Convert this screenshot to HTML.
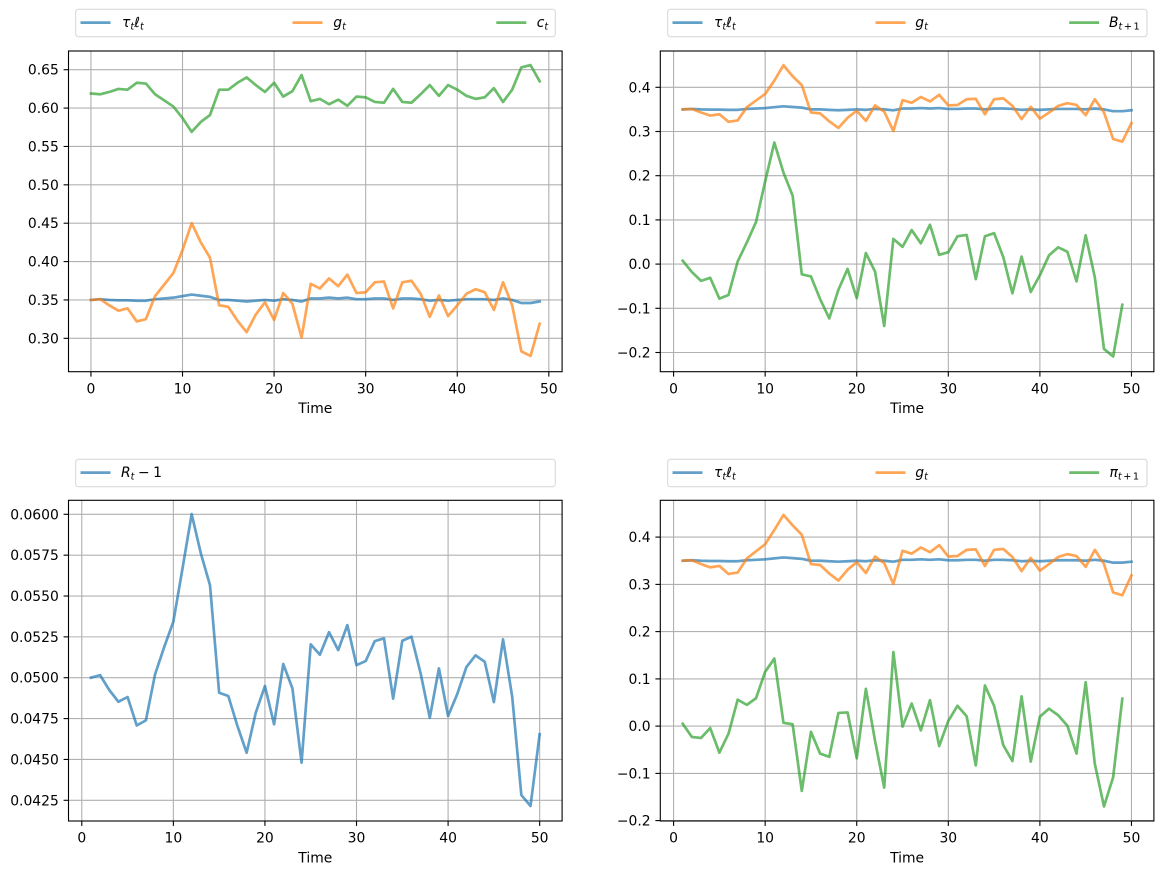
<!DOCTYPE html>
<html>
<head>
<meta charset="utf-8">
<style>
html,body{margin:0;padding:0;background:#fff;}
svg{display:block;}
text{font-family:"DejaVu Sans","Liberation Sans",sans-serif;fill:#000;}
.tk{font-size:13.9px;}
.grid line{stroke:#b0b0b0;stroke-width:1.1;}
.tick line{stroke:#000;stroke-width:1.1;}
.spine{fill:none;stroke:#000;stroke-width:1.1;}
.ser{fill:none;stroke-width:2.7;stroke-linejoin:round;stroke-linecap:square;vector-effect:non-scaling-stroke;stroke-opacity:0.7;}
.b{stroke:#1f77b4;} .o{stroke:#ff7f0e;} .g{stroke:#2ca02c;}
.leg{fill:#fff;stroke:#d6d6d6;stroke-width:1;}
.lh{stroke-width:2.7;stroke-opacity:0.7;}
.mt{font-size:13.9px;font-style:italic;}
.up{font-style:normal;}
</style>
</head>
<body>
<svg width="1163" height="874" viewBox="0 0 1163 874" xmlns="http://www.w3.org/2000/svg">

<!-- ============ TOP LEFT ============ -->
<g class="grid">
<line x1="90.94" y1="51" x2="90.94" y2="371.7"/><line x1="182.52" y1="51" x2="182.52" y2="371.7"/><line x1="274.09" y1="51" x2="274.09" y2="371.7"/><line x1="365.67" y1="51" x2="365.67" y2="371.7"/><line x1="457.25" y1="51" x2="457.25" y2="371.7"/><line x1="548.82" y1="51" x2="548.82" y2="371.7"/>
<line x1="68.5" y1="69.72" x2="562.1" y2="69.72"/><line x1="68.5" y1="108.09" x2="562.1" y2="108.09"/><line x1="68.5" y1="146.46" x2="562.1" y2="146.46"/><line x1="68.5" y1="184.83" x2="562.1" y2="184.83"/><line x1="68.5" y1="223.2" x2="562.1" y2="223.2"/><line x1="68.5" y1="261.58" x2="562.1" y2="261.58"/><line x1="68.5" y1="299.95" x2="562.1" y2="299.95"/><line x1="68.5" y1="338.32" x2="562.1" y2="338.32"/>
</g>
<svg x="68.5" y="51" width="493.6" height="320.7" viewBox="-2.45 -0.6744 53.9 0.4179" preserveAspectRatio="none">
<polyline class="ser b" points="0,-0.350 1,-0.351 2,-0.350 3,-0.3495 4,-0.3495 5,-0.349 6,-0.349 7,-0.351 8,-0.352 9,-0.353 10,-0.355 11,-0.357 12,-0.3555 13,-0.354 14,-0.350 15,-0.350 16,-0.349 17,-0.348 18,-0.349 19,-0.350 20,-0.349 21,-0.351 22,-0.350 23,-0.348 24,-0.352 25,-0.352 26,-0.353 27,-0.352 28,-0.353 29,-0.351 30,-0.351 31,-0.352 32,-0.352 33,-0.350 34,-0.352 35,-0.352 36,-0.351 37,-0.349 38,-0.350 39,-0.349 40,-0.350 41,-0.351 42,-0.351 43,-0.351 44,-0.350 45,-0.352 46,-0.350 47,-0.346 48,-0.346 49,-0.348"/>
<polyline class="ser o" points="0,-0.350 1,-0.351 2,-0.343 3,-0.336 4,-0.339 5,-0.322 6,-0.325 7,-0.355 8,-0.370 9,-0.385 10,-0.415 11,-0.450 12,-0.425 13,-0.405 14,-0.343 15,-0.341 16,-0.323 17,-0.308 18,-0.331 19,-0.347 20,-0.324 21,-0.359 22,-0.345 23,-0.301 24,-0.371 25,-0.365 26,-0.378 27,-0.368 28,-0.383 29,-0.359 30,-0.360 31,-0.373 32,-0.374 33,-0.339 34,-0.373 35,-0.375 36,-0.358 37,-0.328 38,-0.356 39,-0.329 40,-0.343 41,-0.358 42,-0.364 43,-0.360 44,-0.337 45,-0.373 46,-0.343 47,-0.283 48,-0.277 49,-0.319"/>
<polyline class="ser g" points="0,-0.619 1,-0.618 2,-0.621 3,-0.625 4,-0.624 5,-0.633 6,-0.632 7,-0.618 8,-0.610 9,-0.602 10,-0.587 11,-0.569 12,-0.582 13,-0.591 14,-0.624 15,-0.624 16,-0.633 17,-0.640 18,-0.630 19,-0.621 20,-0.633 21,-0.615 22,-0.622 23,-0.643 24,-0.609 25,-0.612 26,-0.605 27,-0.611 28,-0.603 29,-0.615 30,-0.614 31,-0.608 32,-0.607 33,-0.625 34,-0.608 35,-0.607 36,-0.618 37,-0.630 38,-0.616 39,-0.630 40,-0.624 41,-0.616 42,-0.612 43,-0.614 44,-0.626 45,-0.608 46,-0.624 47,-0.653 48,-0.656 49,-0.635"/>
</svg>
<rect class="spine" x="68.5" y="51" width="493.6" height="320.7"/>
<g class="tick">
<line x1="90.94" y1="371.7" x2="90.94" y2="376.6"/><line x1="182.52" y1="371.7" x2="182.52" y2="376.6"/><line x1="274.09" y1="371.7" x2="274.09" y2="376.6"/><line x1="365.67" y1="371.7" x2="365.67" y2="376.6"/><line x1="457.25" y1="371.7" x2="457.25" y2="376.6"/><line x1="548.82" y1="371.7" x2="548.82" y2="376.6"/>
<line x1="63.6" y1="69.72" x2="68.5" y2="69.72"/><line x1="63.6" y1="108.09" x2="68.5" y2="108.09"/><line x1="63.6" y1="146.46" x2="68.5" y2="146.46"/><line x1="63.6" y1="184.83" x2="68.5" y2="184.83"/><line x1="63.6" y1="223.2" x2="68.5" y2="223.2"/><line x1="63.6" y1="261.58" x2="68.5" y2="261.58"/><line x1="63.6" y1="299.95" x2="68.5" y2="299.95"/><line x1="63.6" y1="338.32" x2="68.5" y2="338.32"/>
</g>
<g class="tk" text-anchor="middle">
<text x="90.94" y="393.4">0</text><text x="182.52" y="393.4">10</text><text x="274.09" y="393.4">20</text><text x="365.67" y="393.4">30</text><text x="457.25" y="393.4">40</text><text x="548.82" y="393.4">50</text>
</g>
<g class="tk" text-anchor="end">
<text x="58.8" y="74.7">0.65</text><text x="58.8" y="113.1">0.60</text><text x="58.8" y="151.5">0.55</text><text x="58.8" y="189.8">0.50</text><text x="58.8" y="228.2">0.45</text><text x="58.8" y="266.6">0.40</text><text x="58.8" y="305">0.35</text><text x="58.8" y="343.3">0.30</text>
</g>
<text class="tk" x="315.3" y="413" text-anchor="middle">Time</text>
<rect class="leg" x="75.7" y="9.3" width="479.6" height="27.4" rx="2.8"/>
<line class="lh b" x1="80.5" y1="22.6" x2="110.5" y2="22.6"/>
<line class="lh o" x1="292.5" y1="22.6" x2="322.5" y2="22.6"/>
<line class="lh g" x1="496.3" y1="22.6" x2="526.3" y2="22.6"/>
<text class="mt" x="122" y="27">τ<tspan font-size="9.7" dy="2.5">t</tspan><tspan dy="-2.5">ℓ</tspan><tspan font-size="9.7" dy="2.5">t</tspan></text>
<text class="mt" x="333.3" y="27">g<tspan font-size="9.7" dy="2.5">t</tspan></text>
<text class="mt" x="536.7" y="27">c<tspan font-size="9.7" dy="2.5">t</tspan></text>

<!-- ============ TOP RIGHT ============ -->
<g class="grid">
<line x1="673.58" y1="51" x2="673.58" y2="371.7"/><line x1="765.16" y1="51" x2="765.16" y2="371.7"/><line x1="856.73" y1="51" x2="856.73" y2="371.7"/><line x1="948.31" y1="51" x2="948.31" y2="371.7"/><line x1="1039.89" y1="51" x2="1039.89" y2="371.7"/><line x1="1131.47" y1="51" x2="1131.47" y2="371.7"/>
<line x1="660.3" y1="87.3" x2="1153.9" y2="87.3"/><line x1="660.3" y1="131.5" x2="1153.9" y2="131.5"/><line x1="660.3" y1="175.7" x2="1153.9" y2="175.7"/><line x1="660.3" y1="219.9" x2="1153.9" y2="219.9"/><line x1="660.3" y1="264.1" x2="1153.9" y2="264.1"/><line x1="660.3" y1="308.3" x2="1153.9" y2="308.3"/><line x1="660.3" y1="352.5" x2="1153.9" y2="352.5"/>
</g>
<svg x="660.3" y="51" width="493.6" height="320.7" viewBox="-1.45 -0.48213 53.9 0.72557" preserveAspectRatio="none">
<g transform="translate(1 0)">
<polyline class="ser b" points="0,-0.350 1,-0.351 2,-0.350 3,-0.3495 4,-0.3495 5,-0.349 6,-0.349 7,-0.351 8,-0.352 9,-0.353 10,-0.355 11,-0.357 12,-0.3555 13,-0.354 14,-0.350 15,-0.350 16,-0.349 17,-0.348 18,-0.349 19,-0.350 20,-0.349 21,-0.351 22,-0.350 23,-0.348 24,-0.352 25,-0.352 26,-0.353 27,-0.352 28,-0.353 29,-0.351 30,-0.351 31,-0.352 32,-0.352 33,-0.350 34,-0.352 35,-0.352 36,-0.351 37,-0.349 38,-0.350 39,-0.349 40,-0.350 41,-0.351 42,-0.351 43,-0.351 44,-0.350 45,-0.352 46,-0.350 47,-0.346 48,-0.346 49,-0.348"/>
<polyline class="ser o" points="0,-0.350 1,-0.351 2,-0.343 3,-0.336 4,-0.339 5,-0.322 6,-0.325 7,-0.355 8,-0.370 9,-0.385 10,-0.415 11,-0.450 12,-0.425 13,-0.405 14,-0.343 15,-0.341 16,-0.323 17,-0.308 18,-0.331 19,-0.347 20,-0.324 21,-0.359 22,-0.345 23,-0.301 24,-0.371 25,-0.365 26,-0.378 27,-0.368 28,-0.383 29,-0.359 30,-0.360 31,-0.373 32,-0.374 33,-0.339 34,-0.373 35,-0.375 36,-0.358 37,-0.328 38,-0.356 39,-0.329 40,-0.343 41,-0.358 42,-0.364 43,-0.360 44,-0.337 45,-0.373 46,-0.343 47,-0.283 48,-0.277 49,-0.319"/>
</g>
<polyline class="ser g" points="1,-0.0075 2,0.018 3,0.038 4,0.031 5,0.078 6,0.070 7,-0.006 8,-0.049 9,-0.095 10,-0.187 11,-0.275 12,-0.207 13,-0.155 14,0.023 15,0.028 16,0.079 17,0.123 18,0.058 19,0.011 20,0.077 21,-0.025 22,0.017 23,0.140 24,-0.057 25,-0.039 26,-0.077 27,-0.047 28,-0.089 29,-0.021 30,-0.027 31,-0.063 32,-0.066 33,0.034 34,-0.063 35,-0.070 36,-0.016 37,0.066 38,-0.017 39,0.063 40,0.025 41,-0.020 42,-0.038 43,-0.028 44,0.039 45,-0.065 46,0.030 47,0.192 48,0.209 49,0.092"/>
</svg>
<rect class="spine" x="660.3" y="51" width="493.6" height="320.7"/>
<g class="tick">
<line x1="673.58" y1="371.7" x2="673.58" y2="376.6"/><line x1="765.16" y1="371.7" x2="765.16" y2="376.6"/><line x1="856.73" y1="371.7" x2="856.73" y2="376.6"/><line x1="948.31" y1="371.7" x2="948.31" y2="376.6"/><line x1="1039.89" y1="371.7" x2="1039.89" y2="376.6"/><line x1="1131.47" y1="371.7" x2="1131.47" y2="376.6"/>
<line x1="655.4" y1="87.3" x2="660.3" y2="87.3"/><line x1="655.4" y1="131.5" x2="660.3" y2="131.5"/><line x1="655.4" y1="175.7" x2="660.3" y2="175.7"/><line x1="655.4" y1="219.9" x2="660.3" y2="219.9"/><line x1="655.4" y1="264.1" x2="660.3" y2="264.1"/><line x1="655.4" y1="308.3" x2="660.3" y2="308.3"/><line x1="655.4" y1="352.5" x2="660.3" y2="352.5"/>
</g>
<g class="tk" text-anchor="middle">
<text x="673.58" y="393.4">0</text><text x="765.16" y="393.4">10</text><text x="856.73" y="393.4">20</text><text x="948.31" y="393.4">30</text><text x="1039.89" y="393.4">40</text><text x="1131.47" y="393.4">50</text>
</g>
<g class="tk" text-anchor="end">
<text x="650.6" y="92.3">0.4</text><text x="650.6" y="136.5">0.3</text><text x="650.6" y="180.7">0.2</text><text x="650.6" y="224.9">0.1</text><text x="650.6" y="269.1">0.0</text><text x="650.6" y="313.3">−0.1</text><text x="650.6" y="357.5">−0.2</text>
</g>
<text class="tk" x="907.1" y="413" text-anchor="middle">Time</text>
<rect class="leg" x="667.7" y="9.3" width="479.3" height="27.4" rx="2.8"/>
<line class="lh b" x1="672.5" y1="22.6" x2="702.5" y2="22.6"/>
<line class="lh o" x1="875.5" y1="22.6" x2="905.5" y2="22.6"/>
<line class="lh g" x1="1069.2" y1="22.6" x2="1099.2" y2="22.6"/>
<text class="mt" x="714" y="27">τ<tspan font-size="9.7" dy="2.5">t</tspan><tspan dy="-2.5">ℓ</tspan><tspan font-size="9.7" dy="2.5">t</tspan></text>
<text class="mt" x="915.3" y="27">g<tspan font-size="9.7" dy="2.5">t</tspan></text>
<text class="mt" x="1109" y="27">B<tspan font-size="9.7" dy="2.5">t</tspan><tspan class="up" font-size="9.7" dx="1.5">+</tspan><tspan class="up" font-size="9.7" dx="1.5">1</tspan></text>

<!-- ============ BOTTOM LEFT ============ -->
<g class="grid">
<line x1="81.78" y1="500.3" x2="81.78" y2="821"/><line x1="173.36" y1="500.3" x2="173.36" y2="821"/><line x1="264.93" y1="500.3" x2="264.93" y2="821"/><line x1="356.51" y1="500.3" x2="356.51" y2="821"/><line x1="448.09" y1="500.3" x2="448.09" y2="821"/><line x1="539.66" y1="500.3" x2="539.66" y2="821"/>
<line x1="68.5" y1="514.3" x2="562.1" y2="514.3"/><line x1="68.5" y1="555.16" x2="562.1" y2="555.16"/><line x1="68.5" y1="596.02" x2="562.1" y2="596.02"/><line x1="68.5" y1="636.87" x2="562.1" y2="636.87"/><line x1="68.5" y1="677.73" x2="562.1" y2="677.73"/><line x1="68.5" y1="718.59" x2="562.1" y2="718.59"/><line x1="68.5" y1="759.45" x2="562.1" y2="759.45"/><line x1="68.5" y1="800.3" x2="562.1" y2="800.3"/>
</g>
<svg x="68.5" y="500.3" width="493.6" height="320.7" viewBox="-1.45 -60.857 53.9 19.624" preserveAspectRatio="none">
<polyline class="ser b" points="1,-50.00 2,-50.16 3,-49.25 4,-48.53 5,-48.82 6,-47.08 7,-47.39 8,-50.20 9,-51.88 10,-53.43 11,-56.69 12,-60.01 13,-57.61 14,-55.67 15,-49.08 16,-48.88 17,-47.04 18,-45.41 19,-47.86 20,-49.49 21,-47.15 22,-50.84 23,-49.35 24,-44.80 25,-52.04 26,-51.41 27,-52.79 28,-51.69 29,-53.22 30,-50.77 31,-51.02 32,-52.24 33,-52.41 34,-48.72 35,-52.26 36,-52.51 37,-50.27 38,-47.55 39,-50.57 40,-47.66 41,-49.00 42,-50.65 43,-51.37 44,-50.98 45,-48.51 46,-52.35 47,-48.84 48,-42.82 49,-42.15 50,-46.55"/>
</svg>
<rect class="spine" x="68.5" y="500.3" width="493.6" height="320.7"/>
<g class="tick">
<line x1="81.78" y1="821" x2="81.78" y2="825.9"/><line x1="173.36" y1="821" x2="173.36" y2="825.9"/><line x1="264.93" y1="821" x2="264.93" y2="825.9"/><line x1="356.51" y1="821" x2="356.51" y2="825.9"/><line x1="448.09" y1="821" x2="448.09" y2="825.9"/><line x1="539.66" y1="821" x2="539.66" y2="825.9"/>
<line x1="63.6" y1="514.3" x2="68.5" y2="514.3"/><line x1="63.6" y1="555.16" x2="68.5" y2="555.16"/><line x1="63.6" y1="596.02" x2="68.5" y2="596.02"/><line x1="63.6" y1="636.87" x2="68.5" y2="636.87"/><line x1="63.6" y1="677.73" x2="68.5" y2="677.73"/><line x1="63.6" y1="718.59" x2="68.5" y2="718.59"/><line x1="63.6" y1="759.45" x2="68.5" y2="759.45"/><line x1="63.6" y1="800.3" x2="68.5" y2="800.3"/>
</g>
<g class="tk" text-anchor="middle">
<text x="81.78" y="842.7">0</text><text x="173.36" y="842.7">10</text><text x="264.93" y="842.7">20</text><text x="356.51" y="842.7">30</text><text x="448.09" y="842.7">40</text><text x="539.66" y="842.7">50</text>
</g>
<g class="tk" text-anchor="end">
<text x="58.8" y="519.3">0.0600</text><text x="58.8" y="560.2">0.0575</text><text x="58.8" y="601">0.0550</text><text x="58.8" y="641.9">0.0525</text><text x="58.8" y="682.7">0.0500</text><text x="58.8" y="723.6">0.0475</text><text x="58.8" y="764.5">0.0450</text><text x="58.8" y="805.3">0.0425</text>
</g>
<text class="tk" x="315.3" y="862.3" text-anchor="middle">Time</text>
<rect class="leg" x="75.7" y="459.3" width="479.6" height="27.4" rx="2.8"/>
<line class="lh b" x1="80.5" y1="472.6" x2="110.5" y2="472.6"/>
<text class="mt" x="121" y="477">R<tspan font-size="9.7" dy="2.5">t</tspan><tspan class="up" dy="-2.5" dx="3.5">−</tspan><tspan class="up" dx="3.5">1</tspan></text>

<!-- ============ BOTTOM RIGHT ============ -->
<g class="grid">
<line x1="673.58" y1="500.3" x2="673.58" y2="821"/><line x1="765.16" y1="500.3" x2="765.16" y2="821"/><line x1="856.73" y1="500.3" x2="856.73" y2="821"/><line x1="948.31" y1="500.3" x2="948.31" y2="821"/><line x1="1039.89" y1="500.3" x2="1039.89" y2="821"/><line x1="1131.47" y1="500.3" x2="1131.47" y2="821"/>
<line x1="660.3" y1="537.1" x2="1153.9" y2="537.1"/><line x1="660.3" y1="584.4" x2="1153.9" y2="584.4"/><line x1="660.3" y1="631.6" x2="1153.9" y2="631.6"/><line x1="660.3" y1="678.9" x2="1153.9" y2="678.9"/><line x1="660.3" y1="726.1" x2="1153.9" y2="726.1"/><line x1="660.3" y1="773.4" x2="1153.9" y2="773.4"/><line x1="660.3" y1="820.6" x2="1153.9" y2="820.6"/>
</g>
<svg x="660.3" y="500.3" width="493.6" height="320.7" viewBox="-1.45 -0.4779 53.9 0.6786" preserveAspectRatio="none">
<g transform="translate(1 0)">
<polyline class="ser b" points="0,-0.350 1,-0.351 2,-0.350 3,-0.3495 4,-0.3495 5,-0.349 6,-0.349 7,-0.351 8,-0.352 9,-0.353 10,-0.355 11,-0.357 12,-0.3555 13,-0.354 14,-0.350 15,-0.350 16,-0.349 17,-0.348 18,-0.349 19,-0.350 20,-0.349 21,-0.351 22,-0.350 23,-0.348 24,-0.352 25,-0.352 26,-0.353 27,-0.352 28,-0.353 29,-0.351 30,-0.351 31,-0.352 32,-0.352 33,-0.350 34,-0.352 35,-0.352 36,-0.351 37,-0.349 38,-0.350 39,-0.349 40,-0.350 41,-0.351 42,-0.351 43,-0.351 44,-0.350 45,-0.352 46,-0.350 47,-0.346 48,-0.346 49,-0.348"/>
<polyline class="ser o" points="0,-0.350 1,-0.351 2,-0.343 3,-0.336 4,-0.339 5,-0.322 6,-0.325 7,-0.355 8,-0.370 9,-0.385 10,-0.415 11,-0.447 12,-0.425 13,-0.405 14,-0.343 15,-0.341 16,-0.323 17,-0.308 18,-0.331 19,-0.347 20,-0.324 21,-0.359 22,-0.345 23,-0.301 24,-0.371 25,-0.365 26,-0.378 27,-0.368 28,-0.383 29,-0.359 30,-0.360 31,-0.373 32,-0.374 33,-0.339 34,-0.373 35,-0.375 36,-0.358 37,-0.328 38,-0.356 39,-0.329 40,-0.343 41,-0.358 42,-0.364 43,-0.360 44,-0.337 45,-0.373 46,-0.343 47,-0.283 48,-0.277 49,-0.319"/>
</g>
<polyline class="ser g" points="1,-0.005 2,0.023 3,0.025 4,0.004 5,0.056 6,0.016 7,-0.056 8,-0.045 9,-0.059 10,-0.115 11,-0.143 12,-0.007 13,-0.004 14,0.137 15,0.012 16,0.058 17,0.065 18,-0.028 19,-0.029 20,0.068 21,-0.079 22,0.031 23,0.130 24,-0.157 25,0.001 26,-0.048 27,0.009 28,-0.055 29,0.042 30,-0.011 31,-0.043 32,-0.021 33,0.083 34,-0.086 35,-0.043 36,0.040 37,0.074 38,-0.063 39,0.075 40,-0.020 41,-0.037 42,-0.023 43,-0.001 44,0.058 45,-0.093 46,0.080 47,0.170 48,0.108 49,-0.058"/>
</svg>
<rect class="spine" x="660.3" y="500.3" width="493.6" height="320.7"/>
<g class="tick">
<line x1="673.58" y1="821" x2="673.58" y2="825.9"/><line x1="765.16" y1="821" x2="765.16" y2="825.9"/><line x1="856.73" y1="821" x2="856.73" y2="825.9"/><line x1="948.31" y1="821" x2="948.31" y2="825.9"/><line x1="1039.89" y1="821" x2="1039.89" y2="825.9"/><line x1="1131.47" y1="821" x2="1131.47" y2="825.9"/>
<line x1="655.4" y1="537.1" x2="660.3" y2="537.1"/><line x1="655.4" y1="584.4" x2="660.3" y2="584.4"/><line x1="655.4" y1="631.6" x2="660.3" y2="631.6"/><line x1="655.4" y1="678.9" x2="660.3" y2="678.9"/><line x1="655.4" y1="726.1" x2="660.3" y2="726.1"/><line x1="655.4" y1="773.4" x2="660.3" y2="773.4"/><line x1="655.4" y1="820.6" x2="660.3" y2="820.6"/>
</g>
<g class="tk" text-anchor="middle">
<text x="673.58" y="842.7">0</text><text x="765.16" y="842.7">10</text><text x="856.73" y="842.7">20</text><text x="948.31" y="842.7">30</text><text x="1039.89" y="842.7">40</text><text x="1131.47" y="842.7">50</text>
</g>
<g class="tk" text-anchor="end">
<text x="650.6" y="542.1">0.4</text><text x="650.6" y="589.4">0.3</text><text x="650.6" y="636.6">0.2</text><text x="650.6" y="683.9">0.1</text><text x="650.6" y="731.1">0.0</text><text x="650.6" y="778.4">−0.1</text><text x="650.6" y="825.6">−0.2</text>
</g>
<text class="tk" x="907.1" y="862.3" text-anchor="middle">Time</text>
<rect class="leg" x="667.7" y="459.3" width="479.3" height="27.4" rx="2.8"/>
<line class="lh b" x1="672.5" y1="472.6" x2="702.5" y2="472.6"/>
<line class="lh o" x1="875.5" y1="472.6" x2="905.5" y2="472.6"/>
<line class="lh g" x1="1069.2" y1="472.6" x2="1099.2" y2="472.6"/>
<text class="mt" x="714" y="477">τ<tspan font-size="9.7" dy="2.5">t</tspan><tspan dy="-2.5">ℓ</tspan><tspan font-size="9.7" dy="2.5">t</tspan></text>
<text class="mt" x="915.3" y="477">g<tspan font-size="9.7" dy="2.5">t</tspan></text>
<text class="mt" x="1109.5" y="477">π<tspan font-size="9.7" dy="2.5">t</tspan><tspan class="up" font-size="9.7" dx="1.5">+</tspan><tspan class="up" font-size="9.7" dx="1.5">1</tspan></text>

</svg>
</body>
</html>
